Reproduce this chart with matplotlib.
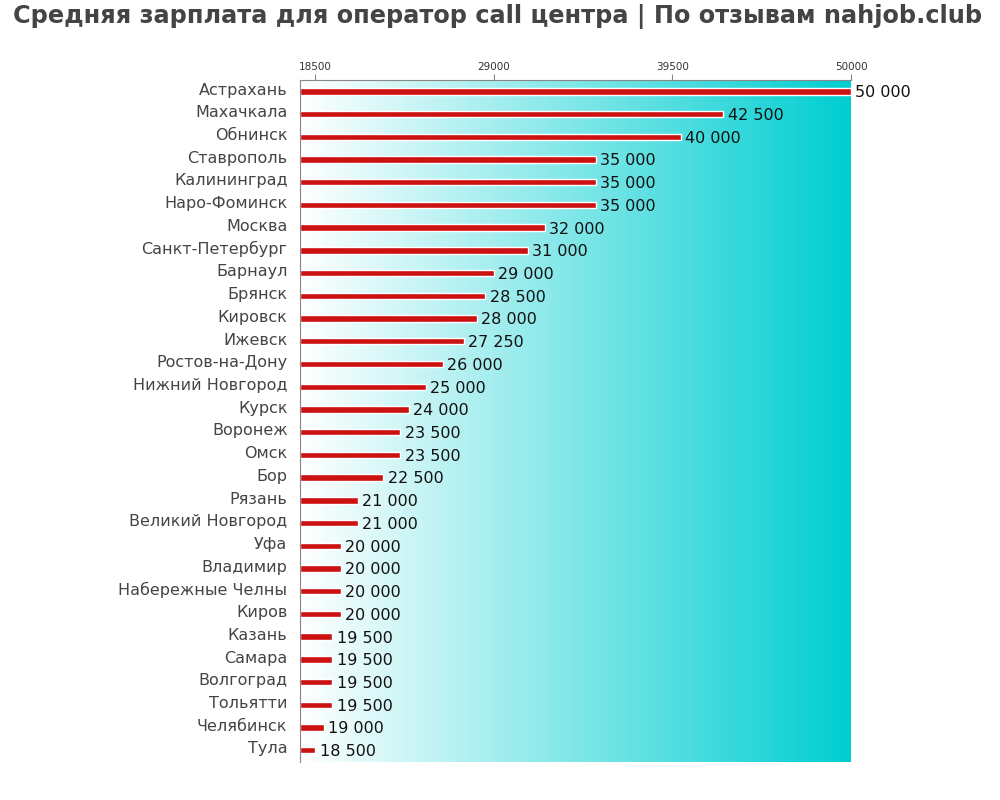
import numpy as np
import matplotlib.pyplot as plt
import matplotlib.transforms as mtransforms
from matplotlib.colors import LinearSegmentedColormap

# Data
cities = ['Астрахань', 'Махачкала', 'Обнинск', 'Ставрополь', 'Калининград',
          'Наро-Фоминск', 'Москва', 'Санкт-Петербург', 'Барнаул', 'Брянск',
          'Кировск', 'Ижевск', 'Ростов-на-Дону', 'Нижний Новгород', 'Курск',
          'Воронеж', 'Омск', 'Бор', 'Рязань', 'Великий Новгород', 'Уфа',
          'Владимир', 'Набережные Челны', 'Киров', 'Казань', 'Самара',
          'Волгоград', 'Тольятти', 'Челябинск', 'Тула']
salaries = [50000, 42500, 40000, 35000, 35000, 35000, 32000, 31000, 29000, 28500,
            28000, 27250, 26000, 25000, 24000, 23500, 23500, 22500, 21000, 21000,
            20000, 20000, 20000, 20000, 19500, 19500, 19500, 19500, 19000, 18500]
tick_values = [18500, 29000, 39500, 50000]

fig = plt.figure(figsize=(10, 8), dpi=100)
ax = fig.add_axes([0.300, 0.048, 0.551, 0.852])

x_min, x_max = 17600, 50000
n = len(cities)
y = np.arange(n)

# gradient background
cmap = LinearSegmentedColormap.from_list('bg', ['#ffffff', '#00ced1'])
grad = np.linspace(0, 1, 256).reshape(1, -1)
ax.imshow(grad, cmap=cmap, aspect='auto', extent=[x_min, x_max, n - 0.5, -0.5], zorder=0)

ax.barh(y, [s - x_min for s in salaries], left=x_min, height=0.28,
        color='#cc1111', edgecolor='white', linewidth=1, zorder=2)

for yi, s in zip(y, salaries):
    ax.text(s + 250, yi + 0.06, f'{s:,}'.replace(',', ' '), va='center', ha='left',
            fontsize=11.5, color='#111111', zorder=3)

ax.set_xlim(x_min, x_max)
ax.set_ylim(n - 0.5, -0.5)
ax.set_yticks(y)
ax.set_yticklabels(cities, fontsize=11.5, color='#444444')
ax.tick_params(axis='y', length=0, pad=9)
shift = mtransforms.ScaledTranslation(0, 2 / 72, fig.dpi_scale_trans)
for lbl in ax.get_yticklabels():
    lbl.set_transform(lbl.get_transform() + shift)
ax.xaxis.tick_top()
ax.set_xticks(tick_values)
ax.set_xticklabels([str(t) for t in tick_values], fontsize=7.5, color='#333333')
ax.tick_params(axis='x', length=4, color='#888888', pad=2)

for side in ['right', 'bottom']:
    ax.spines[side].set_visible(False)
for side in ['top', 'left']:
    ax.spines[side].set_color('#888888')

fig.text(0.498, 0.979, 'Средняя зарплата для оператор call центра | По отзывам nahjob.club',
         ha='center', va='center', fontsize=17.3, fontweight='bold', color='#444444')

fig.savefig('out.png', dpi=100)
